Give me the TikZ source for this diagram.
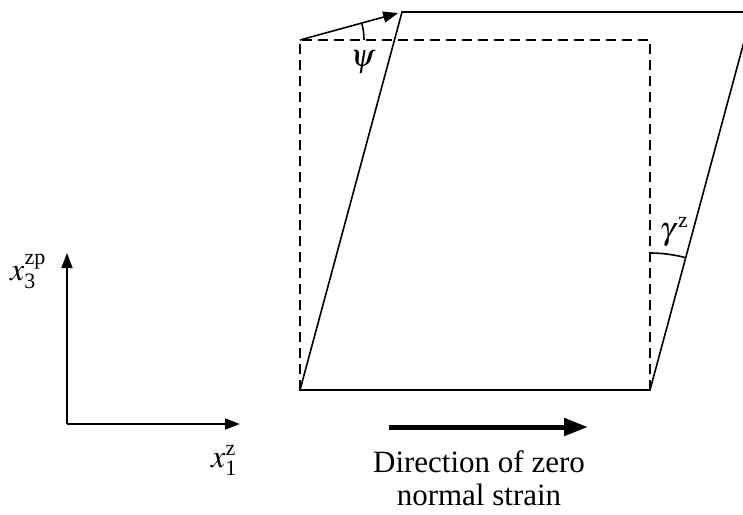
\documentclass[tikz,border=0pt]{standalone}
\usepackage{mathptmx}
\usepackage{fontspec}
\setmainfont{Liberation Serif}
\usetikzlibrary{arrows.meta}
\newcommand{\smtx}[1]{\mbox{\fontsize{22}{22}\selectfont #1}}
\begin{document}
\begin{tikzpicture}[x=1pt,y=-1pt,
  solidline/.style={line width=1.6pt},
  dashline/.style={line width=1.6pt, dash pattern=on 10pt off 6pt},
  headarrow/.style={line width=1.6pt, -{Triangle[length=15pt,width=11pt]}},
  boldarrow/.style={line width=5pt, -{Triangle[length=24pt,width=17pt]}},
  lbl/.style={inner sep=0pt, font=\fontsize{32}{34}\selectfont},
  txt/.style={inner sep=0pt, anchor=base, font=\fontsize{31}{33}\selectfont}]
\useasboundingbox (0,0) rectangle (743,514);
\clip (0,0) rectangle (743,514);
% corners
\coordinate (A) at (300,390);
\coordinate (B) at (650,390);
\coordinate (C) at (402,12);
\coordinate (D) at (752,12);
\coordinate (E) at (300,40);
\coordinate (F) at (650,40);
% undeformed square (dashed)
\draw[dashline] (A) -- (E) -- (F) -- (B);
% deformed parallelogram
\draw[solidline, line join=miter] (A) -- (B) -- (D) -- (C) -- cycle;
% rotation arrow
\draw[headarrow, shorten >=4pt] (E) -- (C);
% angle arcs
\draw[solidline] (E) ++(64,0) arc[start angle=0, end angle=-15.35, radius=64];
\draw[solidline] (B) ++(0,-137) arc[start angle=-90, end angle=-74.9, radius=137];
\node[lbl] (psi) at (363,62) {$\psi$};
\node[lbl] (gam) at (674,232) {$\gamma^{\,\smtx{z}}$};
% axes
\coordinate (O) at (67,424);
\coordinate (Y) at (67,253);
\coordinate (X) at (240,424);
\draw[headarrow] (O) -- (Y);
\draw[headarrow] (O) -- (X);
\node[lbl, anchor=base west] (x3) at (10,280) {$x_{\smtx{3}}^{\smtx{zp}}$};
\node[lbl, anchor=base west] (x1) at (211,467) {$x_{\smtx{1}}^{\smtx{z}}$};
% direction arrow
\coordinate (S) at (389,427);
\coordinate (T) at (588,427);
\draw[boldarrow] (S) -- (T);
\node[txt] (t1) at (479,472) {Direction of zero};
\node[txt] (t2) at (479,505) {normal strain};
\end{tikzpicture}
\end{document}
